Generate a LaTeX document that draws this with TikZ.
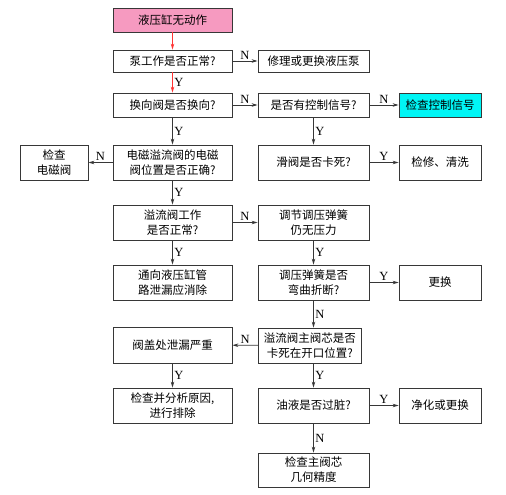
\documentclass[tikz,border=0pt]{standalone}
\usepackage{fontspec}
\setmainfont{Liberation Serif}
\newfontfamily\cjk{Noto Sans CJK SC}
\usetikzlibrary{arrows.meta, positioning}
\definecolor{startpink}{RGB}{246,154,192}
\definecolor{signalcyan}{RGB}{0,245,245}
\definecolor{linegray}{RGB}{55,55,55}

\begin{document}
\begin{tikzpicture}[x=1pt, y=-1pt, >={Stealth[length=6pt, width=3.5pt]},
  box/.style={draw=linegray, line width=0.8pt, inner sep=0pt, align=center,
    font=\cjk\fontsize{11.5}{15}\selectfont, minimum width=119pt, minimum height=35pt},
  wide/.style={box, minimum width=111pt},
  side/.style={box, minimum width=82pt},
  flow/.style={->, draw=linegray, line width=0.8pt},
  alarm/.style={->, draw=red!80, line width=0.8pt},
  yn/.style={font=\fontsize{12.5}{13}\selectfont, inner sep=1.5pt}]
  \useasboundingbox (0,0) rectangle (506,495);

  % left column
  \node[box, fill=startpink, minimum height=24pt] (start) at (172.5,20) {液压缸无动作};
  \node[box, minimum height=22pt] (pump) at (172.5,61) {泵工作是否正常?};
  \node[box, minimum height=24pt] (dir) at (172.5,105) {换向阀是否换向?};
  \node[box] (emv) at (172.5,162.5) {电磁溢流阀的电磁\\阀位置是否正确?};
  \node[box] (relief) at (172.5,222.5) {溢流阀工作\\是否正常?};
  \node[box] (leak) at (172.5,282.5) {通向液压缸管\\路泄漏应消除};
  \node[box, minimum height=36pt] (cover) at (172.5,345) {阀盖处泄漏严重};
  \node[box] (analyse) at (172.5,405.5) {检查并分析原因,\\进行排除};
  \node[box, minimum width=68pt] (solv) at (54,162.5) {检查\\电磁阀};

  % right column
  \node[wide, minimum height=22pt] (repair) at (313.5,61) {修理或更换液压泵};
  \node[wide, minimum height=24pt] (sig) at (313.5,105) {是否有控制信号?};
  \node[wide] (slide) at (313.5,162.5) {滑阀是否卡死?};
  \node[wide] (adjust) at (313.5,222.5) {调节调压弹簧\\仍无压力};
  \node[wide] (spring) at (313.5,282.5) {调压弹簧是否\\弯曲折断?};
  \node[box, minimum width=103pt, anchor=west] (spool) at (258,345.5) {溢流阀主阀芯是否\\卡死在开口位置?};
  \node[wide] (oil) at (313.5,405.5) {油液是否过脏?};
  \node[wide, minimum height=34pt] (geom) at (313.5,470) {检查主阀芯\\几何精度};

  % far right
  \node[side, fill=signalcyan, minimum height=24pt] (chksig) at (440,105) {检查控制信号};
  \node[side] (clean) at (440,162.5) {检修、清洗};
  \node[side] (replace) at (440,282.5) {更换};
  \node[side] (purify) at (440,405.5) {净化或更换};

  % connectors
  \draw[alarm] (start) -- (pump);
  \draw[alarm] (pump) -- node[yn, right] {Y} (dir);
  \draw[flow] (pump) -- node[yn, above] {N} (repair);
  \draw[flow] (dir) -- node[yn, above] {N} (sig);
  \draw[flow] (sig) -- node[yn, above] {N} (chksig);
  \draw[flow] (sig) -- node[yn, right] {Y} (slide);
  \draw[flow] (slide) -- node[yn, above] {Y} (clean);
  \draw[flow] (dir) -- node[yn, right] {Y} (emv);
  \draw[flow] (emv) -- node[yn, above] {N} (solv);
  \draw[flow] (emv) -- node[yn, right] {Y} (relief);
  \draw[flow] (relief) -- node[yn, above] {N} (adjust);
  \draw[flow] (relief) -- node[yn, right] {Y} (leak);
  \draw[flow] (adjust) -- node[yn, right] {Y} (spring);
  \draw[flow] (spring) -- node[yn, above] {Y} (replace);
  \draw[flow] (spring) -- node[yn, right] {N} (spring |- spool.north);
  \draw[flow] (spool) -- node[yn, above] {N} (cover);
  \draw[flow] (spool.south -| oil) -- node[yn, right] {Y} (oil);
  \draw[flow] (cover) -- node[yn, right] {Y} (analyse);
  \draw[flow] (oil) -- node[yn, above] {Y} (purify);
  \draw[flow] (oil) -- node[yn, right] {N} (geom);
\end{tikzpicture}
\end{document}
